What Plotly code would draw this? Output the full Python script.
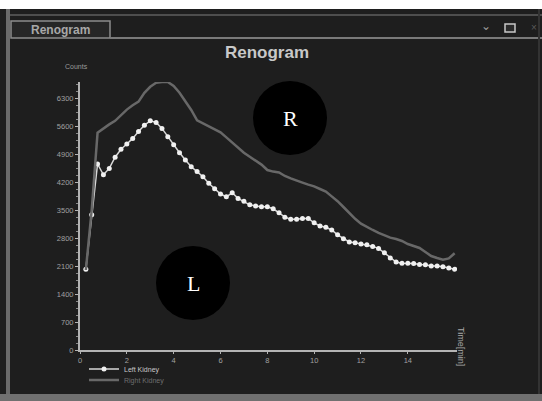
import plotly.graph_objects as go

# ---- data ----
time_min = [0.25, 0.5, 0.75, 1.0, 1.25, 1.5, 1.75, 2.0, 2.25, 2.5, 2.75, 3.0, 3.25, 3.5, 3.75, 4.0,
            4.25, 4.5, 4.75, 5.0, 5.25, 5.5, 5.75, 6.0, 6.25, 6.5, 6.75, 7.0, 7.25, 7.5, 7.75, 8.0,
            8.25, 8.5, 8.75, 9.0, 9.25, 9.5, 9.75, 10.0, 10.25, 10.5, 10.75, 11.0, 11.25, 11.5, 11.75, 12.0,
            12.25, 12.5, 12.75, 13.0, 13.25, 13.5, 13.75, 14.0, 14.25, 14.5, 14.75, 15.0, 15.25, 15.5, 15.75, 16.0]

left_kidney = [2020, 3380, 4650, 4380, 4540, 4820, 5020, 5150, 5290, 5460,
               5620, 5730, 5690, 5540, 5330, 5130, 4930, 4750, 4580, 4460,
               4330, 4170, 4030, 3900, 3830, 3930, 3790, 3720, 3630, 3600,
               3580, 3580, 3530, 3430, 3320, 3270, 3270, 3290, 3290, 3180,
               3100, 3070, 3000, 2880, 2780, 2700, 2680, 2650, 2630, 2590,
               2540, 2430, 2300, 2200, 2170, 2170, 2160, 2140, 2130, 2100,
               2100, 2080, 2050, 2020]

right_kidney = [2000, 3500, 5430, 5540, 5640, 5730, 5870, 6010, 6120, 6210,
                6430, 6580, 6680, 6700, 6700, 6600, 6430, 6230, 6000, 5740,
                5670, 5600, 5520, 5440, 5315, 5185, 5040, 4930, 4830, 4730,
                4635, 4500, 4460, 4440, 4350, 4290, 4230, 4185, 4135, 4090,
                4025, 3960, 3840, 3720, 3575, 3425, 3280, 3160, 3075, 3000,
                2930, 2860, 2810, 2775, 2725, 2650, 2590, 2550, 2450, 2350,
                2300, 2260, 2290, 2420]

y_ticks = [0, 700, 1400, 2100, 2800, 3500, 4200, 4900, 5600, 6300]
x_ticks = [0, 2, 4, 6, 8, 10, 12, 14]

# ---- layout geometry (window pixels) ----
W, H = 542, 401
ML, MT = 80, 82          # plot area top-left
MR = W - 457             # plot right edge at x = 457
MB = H - 350             # plot bottom at y = 350
PW, PH = W - ML - MR, H - MT - MB


def px(x):
    return (x - ML) / PW


def py(y):
    return (H - MB - y) / PH


def cx(x):
    return x / W


def cy(y):
    return 1 - y / H


BG = "#1e1e1e"
FONT = "Liberation Sans"

fig = go.Figure()
fig.add_trace(go.Scatter(
    x=time_min, y=left_kidney, mode="lines+markers",
    name="Left Kidney", legend="legend", showlegend=True,
    line=dict(color="#d8d8d8", width=1.5),
    marker=dict(color="#f0f0f0", size=5),
))
fig.add_trace(go.Scatter(
    x=time_min, y=right_kidney, mode="lines",
    name="Right Kidney", legend="legend2", showlegend=True,
    line=dict(color="#686868", width=2.5),
))

shapes = []
# window chrome
shapes.append(dict(type="rect", xref="paper", yref="paper", x0=px(-5), x1=px(560), y0=py(-10), y1=py(9),
                   fillcolor="#ffffff", line=dict(width=0), layer="below"))
shapes.append(dict(type="line", xref="paper", yref="paper", x0=px(10), x1=px(560), y0=py(15), y1=py(15),
                   line=dict(color="#4e4e4e", width=2), layer="below"))
shapes.append(dict(type="rect", xref="paper", yref="paper", x0=px(11), x1=px(110), y0=py(21), y1=py(38),
                   fillcolor="#262626", line=dict(color="#8c8c8c", width=1.5), layer="below"))
shapes.append(dict(type="line", xref="paper", yref="paper", x0=px(110), x1=px(560), y0=py(38), y1=py(38),
                   line=dict(color="#7a7a7a", width=2), layer="below"))
shapes.append(dict(type="line", xref="paper", yref="paper", x0=px(8), x1=px(8), y0=py(9), y1=py(410),
                   line=dict(color="#6a6a6a", width=4), layer="below"))
shapes.append(dict(type="rect", xref="paper", yref="paper", x0=px(-5), x1=px(560), y0=py(394), y1=py(410),
                   fillcolor="#707070", line=dict(width=0), layer="below"))
shapes.append(dict(type="line", xref="paper", yref="paper", x0=px(539), x1=px(539), y0=py(9), y1=py(394),
                   line=dict(color="#333333", width=2), layer="below"))
# window icons
shapes.append(dict(type="rect", xref="paper", yref="paper", x0=px(505), x1=px(515), y0=py(24), y1=py(32),
                   fillcolor="#2a2a2a", line=dict(color="#c8c8c8", width=1.5), layer="below"))
# anonymisation circles
shapes.append(dict(type="circle", xref="paper", yref="paper", x0=px(253), x1=px(327), y0=py(81), y1=py(155),
                   fillcolor="#000000", line=dict(width=0), layer="above"))
shapes.append(dict(type="circle", xref="paper", yref="paper", x0=px(156), x1=px(230), y0=py(246), y1=py(320),
                   fillcolor="#000000", line=dict(width=0), layer="above"))


def note(text, x, y, size, color, family=FONT, angle=0):
    return dict(text=text, x=px(x), y=py(y), xref="paper", yref="paper", showarrow=False,
                xanchor="center", yanchor="middle", textangle=angle,
                font=dict(family=family, size=size, color=color))


annotations = [
    note("<b>Renogram</b>", 60, 29.5, 12, "#a8a8a8"),
    note("⌄", 486, 26, 12, "#9a9a9a"),
    note("×", 534, 28, 10, "#5a5a5a"),
    note("Counts", 76, 67, 7, "#9a9a9a"),
    note("Time[min]", 461, 346, 9, "#a8a8a8", angle=90),
    note("R", 290, 118, 22, "#ffffff", family="Liberation Serif"),
    note("L", 193, 283, 22, "#ffffff", family="Liberation Serif"),
]

legend_common = dict(xref="container", yref="container", xanchor="left", yanchor="middle",
                     bgcolor="rgba(0,0,0,0)", itemwidth=30, borderwidth=0, visible=True)

fig.update_layout(
    width=W, height=H, showlegend=True,
    margin=dict(l=ML, r=MR, t=MT, b=MB, autoexpand=False),
    paper_bgcolor=BG, plot_bgcolor=BG,
    font=dict(family=FONT, color="#a0a0a0", size=8),
    title=dict(text="<b>Renogram</b>", x=cx(267), xref="container", y=cy(52), yref="container",
               xanchor="center", yanchor="middle", font=dict(family=FONT, size=17, color="#c8c8c8")),
    xaxis=dict(range=[0, 16.1], tickvals=x_ticks, showgrid=False, zeroline=False,
               showline=True, linecolor="#b4b4b4", linewidth=2, ticks="outside", ticklen=2,
               tickcolor="#b4b4b4", tickfont=dict(size=7.5, color="#a0a0a0")),
    yaxis=dict(range=[0, 6700], tickvals=y_ticks, showgrid=False, zeroline=False,
               showline=True, linecolor="#b4b4b4", linewidth=2, ticks="outside", ticklen=3,
               tickcolor="#b4b4b4", tickfont=dict(size=7.5, color="#a0a0a0"),
               minor=dict(dtick=175, ticks="outside", ticklen=2, tickcolor="#888888")),
    legend=dict(x=cx(84), y=cy(369), font=dict(size=7, color="#c8c8c8"), **legend_common),
    legend2=dict(x=cx(84), y=cy(380), font=dict(size=7, color="#6e6e6e"), **legend_common),
    shapes=shapes,
    annotations=annotations,
)

# the page body's default 8 px margin would shift the figure; remove it
fig.write_html("out.html", config={"displayModeBar": False},
               post_script="document.body.style.margin='0';")
